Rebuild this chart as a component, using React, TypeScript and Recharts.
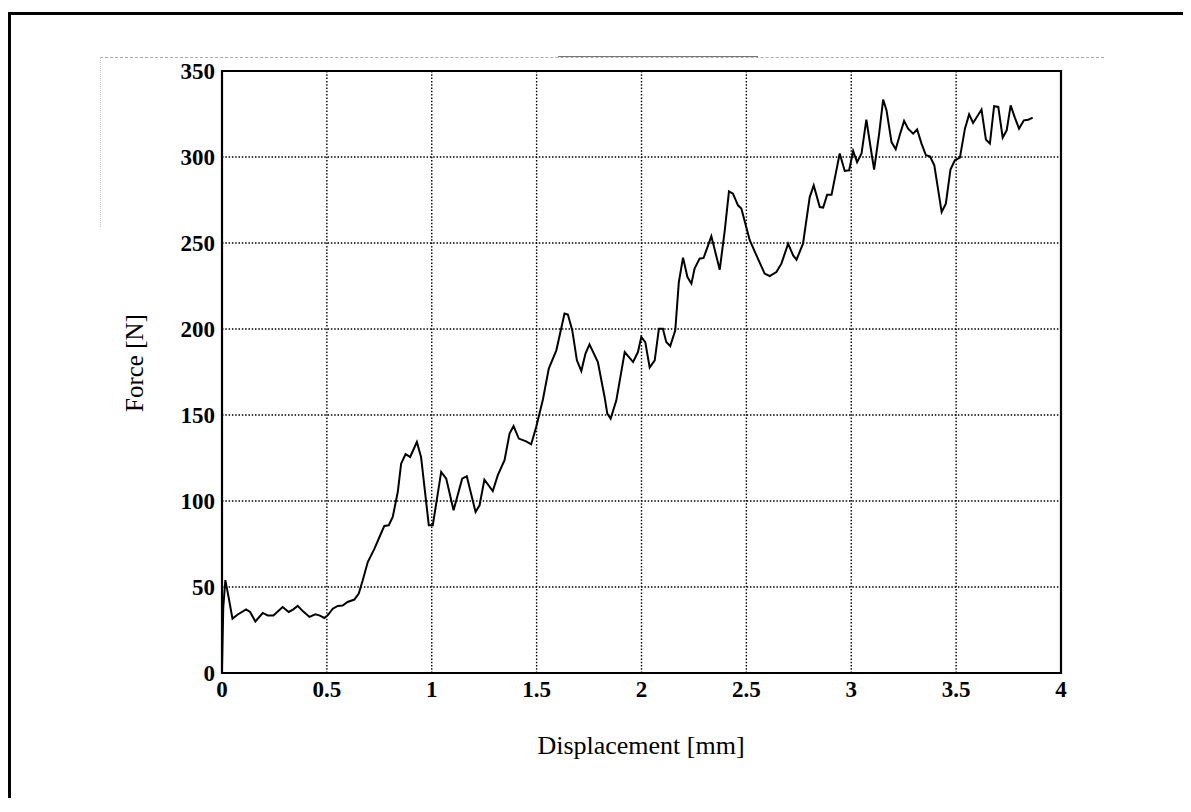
import { LineChart, Line, XAxis, YAxis, CartesianGrid, ReferenceArea } from "recharts";

// load-displacement record, sampled along the trace
const displacement = [
  0, 0.006, 0.016, 0.027, 0.05, 0.075, 0.115, 0.134, 0.159, 0.194, 0.218, 0.245, 0.289, 0.318, 0.34,
  0.361, 0.385, 0.417, 0.445, 0.464, 0.488, 0.504, 0.528, 0.552, 0.575, 0.599, 0.631, 0.652, 0.671,
  0.695, 0.727, 0.759, 0.774, 0.795, 0.814, 0.838, 0.854, 0.875, 0.897, 0.929, 0.949, 0.986, 1.005,
  1.045, 1.069, 1.104, 1.145, 1.167, 1.209, 1.228, 1.251, 1.291, 1.315, 1.347, 1.371, 1.39, 1.415,
  1.45, 1.474, 1.498, 1.53, 1.558, 1.594, 1.633, 1.649, 1.67, 1.692, 1.713, 1.733, 1.752, 1.792,
  1.824, 1.837, 1.853, 1.88, 1.92, 1.96, 1.983, 1.999, 2.018, 2.039, 2.063, 2.083, 2.102, 2.118,
  2.137, 2.161, 2.178, 2.198, 2.219, 2.238, 2.253, 2.277, 2.296, 2.333, 2.373, 2.397, 2.417, 2.436,
  2.46, 2.476, 2.516, 2.548, 2.587, 2.611, 2.643, 2.667, 2.699, 2.723, 2.739, 2.77, 2.802, 2.821,
  2.85, 2.866, 2.885, 2.906, 2.945, 2.969, 2.99, 3.009, 3.028, 3.049, 3.072, 3.092, 3.109, 3.133,
  3.152, 3.168, 3.192, 3.212, 3.231, 3.252, 3.271, 3.295, 3.314, 3.335, 3.356, 3.375, 3.396, 3.431,
  3.451, 3.473, 3.494, 3.518, 3.542, 3.562, 3.581, 3.621, 3.642, 3.661, 3.681, 3.701, 3.722, 3.741,
  3.76, 3.78, 3.8, 3.823, 3.844, 3.865,
];

const force = [
  2, 38, 54, 47, 31.6, 34, 37, 35.5, 30, 34.9, 33.5, 33.5, 38.4, 35.5, 37,
  39, 36, 32.6, 34.1, 33.5, 32, 33.5, 37.4, 39, 39.2, 41.3, 42.7, 46.2, 53.9,
  64.5, 72.3, 81.4, 85.5, 85.9, 90.7, 105.2, 121.7, 127.2, 125.6, 134.3, 125.6, 85.9, 85.9,
  116.9, 113, 94.6, 113, 114.4, 93.6, 97.5, 112.4, 105.8, 115, 123.7, 139.2, 143.6, 136.3,
  134.7, 133, 143, 159, 177, 187.6, 209, 208.4, 199.2, 181.8, 175.6, 185.7, 191.1, 180.8,
  160.5, 150.8, 147.9, 158.5, 186.6, 180.8, 186.6, 195.3, 192.4, 177.6, 181.8, 200.2, 200.2, 192.4,
  190.1, 199.2, 227.3, 241.5, 230.2, 226.4, 235.1, 240.9, 241.3, 253.9, 234.5, 257.4, 280, 278.7,
  271.9, 270, 251.6, 242.8, 232.2, 230.8, 233.1, 238, 249.6, 242.8, 240.3, 249.6, 276.7, 283.5,
  270.9, 270.6, 278, 278, 302, 291.9, 292.3, 303.5, 297, 302, 321.7, 305.8, 292.7, 313.6,
  333.4, 327.2, 308.7, 304.5, 312.6, 321, 316.5, 313.6, 316, 307.8, 301, 300.4, 295.2, 268,
  272.9, 292.7, 298.1, 299.6, 316.5, 324.8, 319.8, 327.6, 310.1, 307.8, 329.5, 329.1, 311.3, 315.5,
  330, 322.9, 316.5, 321.3, 321.7, 322.9,
];

const xTicks = [0, 0.5, 1, 1.5, 2, 2.5, 3, 3.5, 4];
const yTicks = [0, 50, 100, 150, 200, 250, 300, 350];

const rows = displacement.map((d, i) => ({ d, f: force[i] }));

const serif = "'Liberation Serif', 'Times New Roman', serif";
const tickStyle = { fontSize: 23, fill: "#000", fontFamily: serif, fontWeight: 700 };

export default function App() {
  return (
    <div style={{ position: "relative", width: 1183, height: 790, fontFamily: serif }}>
      {/* scanned page frame */}
      <div
        style={{
          position: "absolute", left: 0, top: 4, width: 1182, height: 796,
          boxSizing: "border-box", borderLeft: "3px solid #000", borderTop: "3px solid #000",
          borderRight: "3px solid #000",
        }}
      />
      <div style={{ position: "absolute", left: 92, top: 49, width: 1004, borderTop: "1px dashed #aaa" }} />
      <div style={{ position: "absolute", left: 550, top: 48, width: 200, borderTop: "1px solid #777" }} />
      <div style={{ position: "absolute", left: 92, top: 49, height: 170, borderLeft: "1px dotted #ccc" }} />

      <div style={{ position: "absolute", left: 0, top: 0 }}>
        <LineChart width={1100} height={765} data={rows} margin={{ top: 63, right: 47, left: 0, bottom: 0 }}>
          <CartesianGrid stroke="#000" strokeWidth={1.4} strokeDasharray="1.5 1.8" />
          <XAxis
            dataKey="d"
            type="number"
            domain={[0, 4]}
            ticks={xTicks}
            tick={tickStyle}
            tickSize={0}
            tickMargin={8}
            axisLine={false}
            height={100}
            interval={0}
          />
          <YAxis
            type="number"
            domain={[0, 350]}
            ticks={yTicks}
            tick={tickStyle}
            tickSize={0}
            tickMargin={7}
            axisLine={false}
            width={214}
            interval={0}
          />
          <ReferenceArea x1={0} x2={4} y1={0} y2={350} fill="none" stroke="#000" strokeWidth={2.2} ifOverflow="visible" />
          <Line
            type="linear"
            dataKey="f"
            stroke="#000"
            strokeWidth={2}
            dot={false}
            isAnimationActive={false}
          />
        </LineChart>
      </div>

      <div
        style={{
          position: "absolute", left: 333, top: 723, width: 600, textAlign: "center",
          fontSize: 26, color: "#000", lineHeight: "30px",
        }}
      >
        Displacement [mm]
      </div>
      <div
        style={{
          position: "absolute", left: 127, top: 355, width: 0, height: 0,
        }}
      >
        <div
          style={{
            position: "absolute", left: -100, top: -15, width: 200, textAlign: "center",
            fontSize: 25, lineHeight: "30px", color: "#000", transform: "rotate(-90deg)", whiteSpace: "nowrap",
          }}
        >
          Force [N]
        </div>
      </div>
    </div>
  );
}
